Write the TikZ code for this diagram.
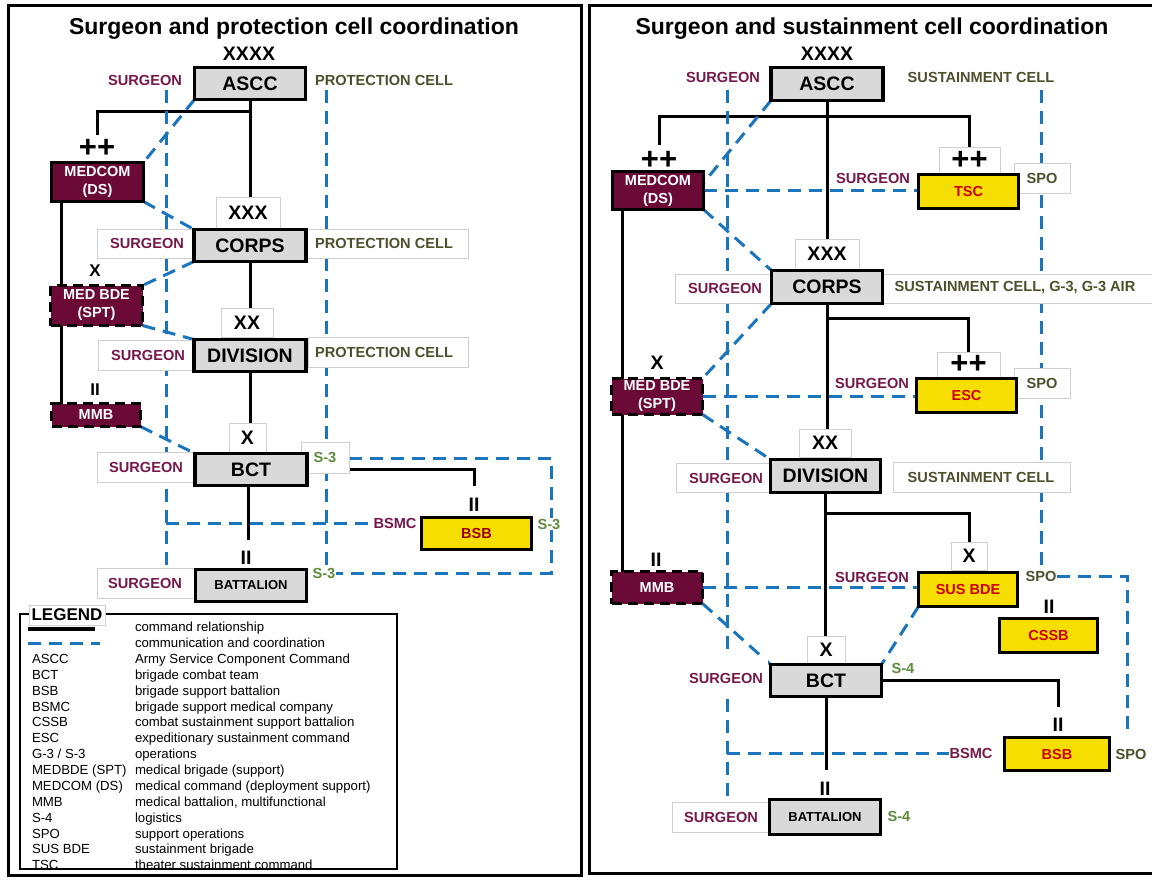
\documentclass[tikz,border=0pt]{standalone}
\usepackage{fontspec}
\setmainfont{Liberation Sans}
\usetikzlibrary{calc}
\definecolor{boxgrey}{HTML}{D9D9D9}
\definecolor{boxyel}{HTML}{F5DE00}
\definecolor{marfill}{HTML}{6B0A37}
\definecolor{martxt}{HTML}{76194A}
\definecolor{olivetxt}{HTML}{4F4F2E}
\definecolor{greentxt}{HTML}{5E8B3D}
\definecolor{redtxtL}{HTML}{9C0006}
\definecolor{redtxtR}{HTML}{CC0000}
\definecolor{dblue}{HTML}{1B75BC}
\definecolor{lgrey}{HTML}{CFCFCF}
\newcommand{\myfs}[1]{\fontsize{#1}{#1}\selectfont}
\newcommand{\legrow}[3]{\node[legtxt] (lega#1) at (32,{631.7+15.87*#1}) {#2};\node[legtxt] (legd#1) at (135,{631.7+15.87*#1}) {#3};}
\pgfdeclarelayer{lines}
\pgfdeclarelayer{labels}
\pgfsetlayers{lines,labels,main}
\begin{document}
\begin{tikzpicture}[x=1pt,y=-1pt,
  every node/.style={inner sep=0pt,outer sep=0pt},
  gbox/.style={draw,line width=3.5pt,fill=boxgrey,font=\myfs{19.5}\bfseries},
  ybox/.style={draw,line width=3.5pt,fill=boxyel,text=redtxtR,font=\myfs{14.5}\bfseries},
  mbox/.style={draw,line width=3.5pt,fill=marfill,text=white,align=center,font=\fontsize{14.5}{18}\selectfont\bfseries},
  mdbox/.style={mbox,dash pattern=on 10pt off 6pt},
  lbl/.style={fill=white,inner sep=1pt,font=\myfs{14.6}\bfseries},
  surg/.style={lbl,text=martxt},
  celltxt/.style={lbl,text=olivetxt},
  sthr/.style={lbl,text=greentxt},
  ech/.style={font=\myfs{19.5}\bfseries},
  echs/.style={font=\myfs{17}\bfseries},
  plus/.style={font=\myfs{31}\bfseries},
  echbox/.style={draw=lgrey,line width=0.8pt,fill=white},
  rowbox/.style={draw=lgrey,line width=0.8pt,fill=white},
  cmd/.style={line width=3pt},
  dsh/.style={draw=dblue,line width=3pt,dash pattern=on 13pt off 8pt},
  legtxt/.style={anchor=base west,font=\myfs{13.2}},
]
\useasboundingbox (0,0) rectangle (1152,879);

% ================= LEFT PANEL: main boxes =================
\node[anchor=base,font=\myfs{23}\bfseries] (ltitle) at (294,34.5) {Surgeon and protection cell coordination};
\node[gbox,minimum width=111,minimum height=32] (lascc) at (250,83.5) {ASCC};
\node[mbox,minimum width=92,minimum height=39] (lmedcom) at (97.5,182) {MEDCOM\\(DS)};
\node[gbox,minimum width=112,minimum height=32] (lcorps) at (250,245.5) {CORPS};
\node[mdbox,minimum width=92,minimum height=40] (lmedbde) at (96.5,305.5) {MED BDE\\(SPT)};
\node[gbox,minimum width=112,minimum height=32] (ldiv) at (250,355.5) {DIVISION};
\node[mdbox,minimum width=89,minimum height=23] (lmmb) at (96,415) {MMB};
\node[gbox,minimum width=112,minimum height=32] (lbct) at (251,469.5) {BCT};
\node[ybox,text=redtxtL,minimum width=110,minimum height=32] (lbsb) at (476.5,533.5) {BSB};
\node[gbox,font=\myfs{13}\bfseries,minimum width=111,minimum height=32] (lbat) at (251,585.5) {BATTALION};

% ================= RIGHT PANEL: main boxes =================
\node[anchor=base,font=\myfs{23}\bfseries] (rtitle) at (872,34.5) {Surgeon and sustainment cell coordination};
\node[gbox,minimum width=112,minimum height=33] (rascc) at (827,84) {ASCC};
\node[mbox,minimum width=91,minimum height=38] (rmedcom) at (658,190.5) {MEDCOM\\(DS)};
\node[ybox,minimum width=100,minimum height=34] (rtsc) at (968.5,191.5) {TSC};
\node[gbox,minimum width=111,minimum height=33] (rcorps) at (827,287) {CORPS};
\node[ybox,minimum width=100,minimum height=34] (resc) at (966.5,395.5) {ESC};
\node[mdbox,minimum width=91,minimum height=36] (rmedbde) at (657,396.5) {MED BDE\\(SPT)};
\node[gbox,minimum width=110,minimum height=33] (rdiv) at (825.5,476) {DIVISION};
\node[ybox,minimum width=99,minimum height=34] (rsusbde) at (968,589.5) {SUS BDE};
\node[mdbox,minimum width=91,minimum height=32] (rmmb) at (657,587.5) {MMB};
\node[ybox,minimum width=98,minimum height=34] (rcssb) at (1048.5,635.5) {CSSB};
\node[gbox,minimum width=111,minimum height=32] (rbct) at (826,680.5) {BCT};
\node[ybox,minimum width=105,minimum height=33] (rbsb) at (1057,754) {BSB};
\node[gbox,font=\myfs{13}\bfseries,minimum width=111,minimum height=35] (rbat) at (825,817) {BATTALION};

% ================= LABELS =================
\begin{pgfonlayer}{labels}
% left row boxes
\draw[rowbox] (97,229) rectangle (468,258);
\draw[rowbox] (98,340) rectangle (193,370);
\draw[rowbox] (308,337) rectangle (468,367);
\draw[rowbox] (97,452) rectangle (194,482);
\draw[rowbox] (97,568) rectangle (194,598);
% left echelons
\node[ech] (lxxxx) at (249,54) {XXXX};
\node[plus] (lpp) at (97,148) {++};
\node[echbox,ech,minimum width=64,minimum height=31] (lxxx) at (248,212.5) {XXX};
\node[echs] (lx1) at (95,271) {X};
\node[echbox,ech,minimum width=52,minimum height=29] (lxx) at (247,322.5) {XX};
\node[echs] (lii1) at (95,390) {II};
\node[echbox,ech,minimum width=37,minimum height=29] (lx2) at (247.5,437.5) {X};
\node[ech] (lii2) at (474,505) {II};
\node[ech] (lii3) at (246,558) {II};
% left labels
\node[surg] (lsurg0) at (145,80) {SURGEON};
\node[celltxt] (lprot0) at (384,80) {PROTECTION CELL};
\node[surg] (lsurg1) at (147,243) {SURGEON};
\node[celltxt] (lprot1) at (384,243) {PROTECTION CELL};
\node[surg] (lsurg2) at (148,355) {SURGEON};
\node[celltxt] (lprot2) at (384,352) {PROTECTION CELL};
\node[surg] (lsurg3) at (146,467) {SURGEON};
\node[rowbox,sthr,minimum width=48,minimum height=31] (lS3a) at (325,457.5) {S-3};
\node[surg] (lbsmc) at (395,523) {BSMC};
\node[sthr] (lS3b) at (549,524) {S-3};
\node[surg] (lsurg4) at (145,583) {SURGEON};
\node[sthr] (lS3c) at (324,573) {S-3};

% right row boxes
\draw[rowbox] (675,274) rectangle (1165,303);
\draw[rowbox] (676,463) rectangle (769,492);
\draw[rowbox] (893,462) rectangle (1070,492);
\draw[rowbox] (672,802) rectangle (768,832);
\fill[white] (685,657) rectangle (768,692);
% right echelons
\node[ech] (rxxxx) at (827,54) {XXXX};
\node[plus] (rpp1) at (659,160) {++};
\node[echbox,plus,minimum width=61,minimum height=26] (rppbox1) at (969.5,160) {++};
\node[echbox,ech,minimum width=64,minimum height=30] (rxxx) at (827,254) {XXX};
\node[echbox,plus,minimum width=63,minimum height=25] (rppbox2) at (968.5,364.5) {++};
\node[ech] (rx1) at (657,363) {X};
\node[echbox,ech,minimum width=52,minimum height=28] (rxx) at (825,443) {XX};
\node[ech] (rii1) at (656,560) {II};
\node[echbox,ech,minimum width=36,minimum height=28] (rxbox1) at (969,556) {X};
\node[ech] (rii2) at (1049,607) {II};
\node[echbox,ech,minimum width=38,minimum height=27] (rxbox2) at (826,649.5) {X};
\node[ech] (rii3) at (1058,725) {II};
\node[ech] (rii4) at (825,789) {II};
% right labels
\node[surg] (rsurg0) at (723,77) {SURGEON};
\node[celltxt] (rsust0) at (981,77) {SUSTAINMENT CELL};
\node[surg] (rsurgT) at (873,178) {SURGEON};
\node[rowbox,celltxt,minimum width=56,minimum height=30] (rspo1) at (1042,178) {SPO};
\node[surg] (rsurg1) at (725,288) {SURGEON};
\node[celltxt] (rsust1) at (1015,288) {SUSTAINMENT CELL, G-3, G-3 AIR};
\node[surg] (rsurgE) at (872,383) {SURGEON};
\node[rowbox,celltxt,minimum width=56,minimum height=30] (rspo2) at (1042,383) {SPO};
\node[surg] (rsurg2) at (726,478) {SURGEON};
\node[celltxt] (rsust2) at (981,477) {SUSTAINMENT CELL};
\node[surg] (rsurgS) at (872,577) {SURGEON};
\node[celltxt] (rspo3) at (1041,576) {SPO};
\node[surg] (rsurg3) at (726,678) {SURGEON};
\node[sthr] (rS4a) at (903,668) {S-4};
\node[surg] (rbsmc) at (971,753) {BSMC};
\node[celltxt] (rspo4) at (1131,754) {SPO};
\node[surg] (rsurg4) at (721,817) {SURGEON};
\node[sthr] (rS4b) at (899,816) {S-4};
\end{pgfonlayer}

% ================= CONNECTORS =================
\begin{pgfonlayer}{lines}
\fill[white] (0,0) rectangle (1152,879);
% ---- left command lines
\coordinate (lbr) at (250,111);
\coordinate (lppt) at (97,135);
\coordinate (lbsbt) at (474,486);
\coordinate (lbatt) at (248,540);
\draw[cmd] (lascc.south) -- (lascc.south |- lxxx.north);
\draw[cmd] (lbr) -| (lppt);
\draw[cmd] ($(lmedcom.south west)+(9.5,0)$) coordinate (lq) -- (lq |- lmmb.north);
\draw[cmd] (lcorps.south) -- (lcorps.south |- lxx.north);
\draw[cmd] (ldiv.south) -- (ldiv.south |- lx2.north);
\draw[cmd] (lbct.east) -| (lbsbt);
\draw[cmd] (lbct.south -| lbatt) -- (lbatt);
% ---- left coordination lines
\coordinate (lst) at (166,90);
\coordinate (lsb) at (166,568);
\coordinate (lpt) at (326,90);
\coordinate (lpb) at (326,567);
\coordinate (lrc) at (551,458);
\draw[dsh] (lst) -- (lsb);
\draw[dsh] (lpt) -- (lpb);
\draw[dsh] (lsb |- lbsmc) -- (lbsmc.west);
\draw[dsh] (lS3a.east |- lrc) -- (lrc) |- (lS3c.east);
\draw[dsh] (lascc.south west) -- (lmedcom.north east);
\draw[dsh] (lmedcom.south east) -- (lcorps.north west);
\draw[dsh] (lcorps.south west) -- (lmedbde.north east);
\draw[dsh] (lmedbde.south east) -- (ldiv.north west);
\draw[dsh] (lmmb.south east) -- (lbct.north west);
% ---- right command lines
\coordinate (rbr) at (827,116);
\coordinate (rppt1) at (659,145);
\coordinate (rbr2) at (827,318);
\coordinate (rbr3) at (826,513);
\coordinate (rbsbt) at (1058,707);
\coordinate (rbatt) at (826,770);
\draw[cmd] (rascc.south) -- (rascc.south |- rxxx.north);
\draw[cmd] (rppt1) |- (rbr) -| (rppbox1.north);
\draw[cmd] ($(rmedcom.south west)+(10,0)$) coordinate (rq) -- (rq |- rmmb.north);
\draw[cmd] (rcorps.south) -- (rcorps.south |- rxx.north);
\draw[cmd] (rbr2) -| (rppbox2.north);
\draw[cmd] (rdiv.south) -- (rdiv.south |- rxbox2.north);
\draw[cmd] (rbr3) -| (rxbox1.north);
\draw[cmd] (rbct.east) -| (rbsbt);
\draw[cmd] (rbct.south) -- (rbatt);
% ---- right coordination lines
\coordinate (rst) at (727,90);
\coordinate (rsb) at (727,802);
\coordinate (rpt) at (1041,90);
\coordinate (rrb) at (1127,737);
\draw[dsh] (rst) -- (rsb);
\draw[dsh] (rpt) -- (rspo3.north);
\draw[dsh] (rmedcom.east) -- (rmedcom.east -| rtsc.west);
\draw[dsh] (rmedbde.east) -- (rmedbde.east -| resc.west);
\draw[dsh] (rmmb.east) -- (rmmb.east -| rsusbde.west);
\draw[dsh] (rsb |- rbsmc) -- (rbsmc.west);
\draw[dsh] (rspo3.east) -| (rrb);
\draw[dsh] (rascc.south west) -- ($(rmedcom.north east)!0.3!(rmedcom.south east)$);
\draw[dsh] (rmedcom.south east) -- (rcorps.north west);
\draw[dsh] (rcorps.south west) -- (rmedbde.north east);
\draw[dsh] (rmedbde.south east) -- (rdiv.north west);
\draw[dsh] (rmmb.south east) -- (rbct.north west);
\draw[dsh] (rsusbde.south west) -- (rbct.north east);
\end{pgfonlayer}

% ================= LEGEND =================
\draw[line width=1.5pt,fill=white] (20,614) rectangle (397,869);
\node[draw=lgrey,line width=0.8pt,fill=white,font=\myfs{17}\bfseries,minimum width=76,minimum height=20] (leg) at (67,615) {LEGEND};
\coordinate (ls1) at (28,629);
\coordinate (ls2) at (95,629);
\coordinate (ld1) at (28,643);
\coordinate (ld2) at (100,643);
\draw[line width=4pt] (ls1) -- (ls2);
\draw[draw=dblue,line width=3pt,dash pattern=on 13pt off 8pt] (ld1) -- (ld2);
\begin{scope}
\clip (20,614) rectangle (397,869);
\node[legtxt] (legd0) at (135,631.7) {command relationship};
\node[legtxt] (legd1) at (135,647.6) {communication and coordination};
\legrow{2}{ASCC}{Army Service Component Command}
\legrow{3}{BCT}{brigade combat team}
\legrow{4}{BSB}{brigade support battalion}
\legrow{5}{BSMC}{brigade support medical company}
\legrow{6}{CSSB}{combat sustainment support battalion}
\legrow{7}{ESC}{expeditionary sustainment command}
\legrow{8}{G-3 / S-3}{operations}
\legrow{9}{MEDBDE (SPT)}{medical brigade (support)}
\legrow{10}{MEDCOM (DS)}{medical command (deployment support)}
\legrow{11}{MMB}{medical battalion, multifunctional}
\legrow{12}{S-4}{logistics}
\legrow{13}{SPO}{support operations}
\legrow{14}{SUS BDE}{sustainment brigade}
\legrow{15}{TSC}{theater sustainment command}
\end{scope}

% ================= FRAMES =================
\draw[line width=3pt] (8.5,5.5) rectangle (581,875);
\draw[line width=3pt] (589,5.5) rectangle (1165,873.5);
\end{tikzpicture}
\end{document}
